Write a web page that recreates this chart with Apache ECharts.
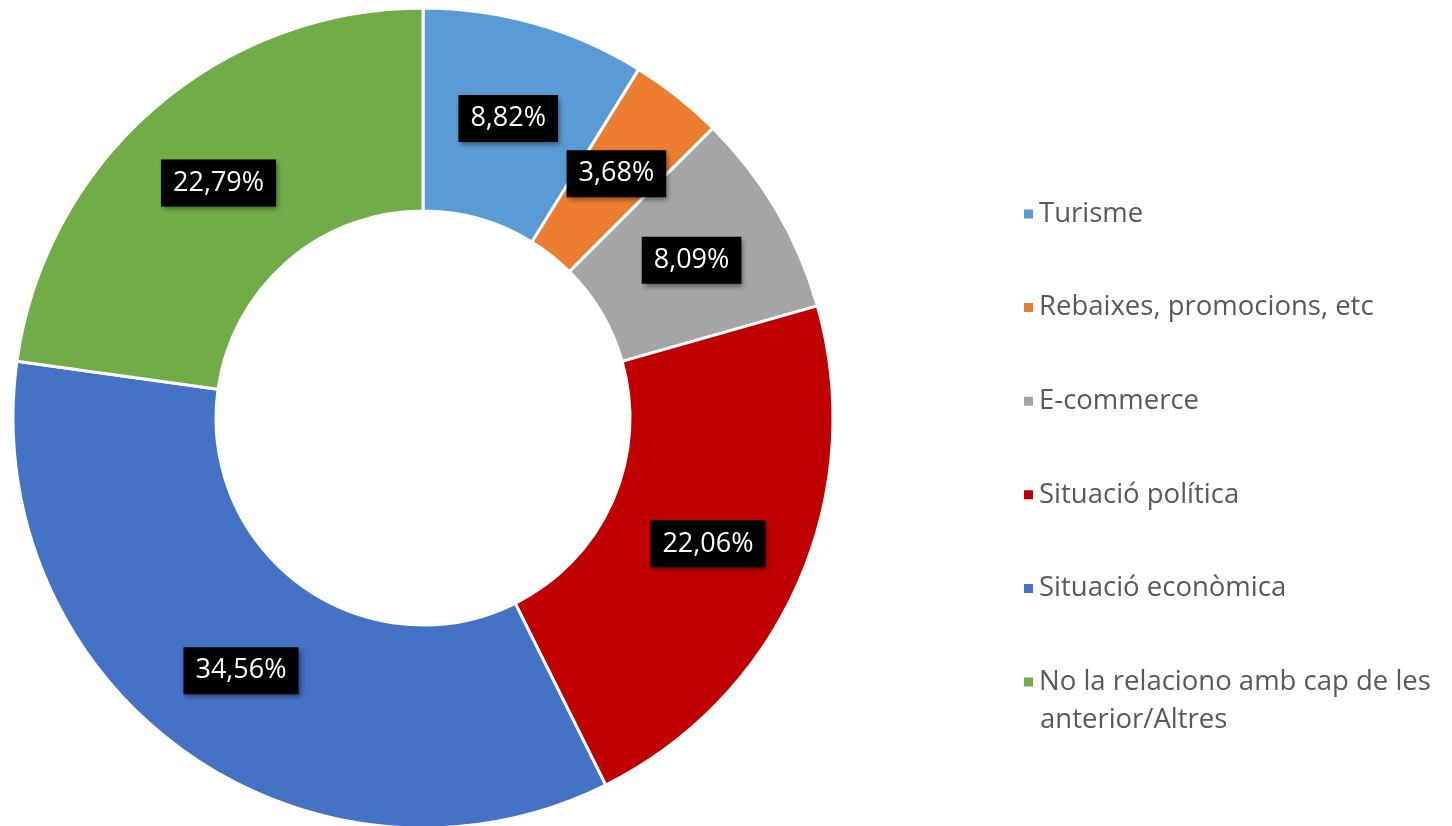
<!DOCTYPE html>
<html>
<head>
<meta charset="utf-8">
<script src="https://cdn.jsdelivr.net/npm/echarts@6/dist/echarts.min.js"></script>
<style>
html,body{margin:0;padding:0;background:#fff;}
#chart{width:1452px;height:826px;}
</style>
</head>
<body>
<div id="chart"></div>
<script>
const categories = ['Turisme', 'Rebaixes, promocions, etc', 'E-commerce', 'Situació política', 'Situació econòmica', 'No la relaciono amb cap de les anterior/Altres'];
const values = [8.82, 3.68, 8.09, 22.06, 34.56, 22.79];
const colors = ['#5B9BD5', '#ED7D31', '#A5A5A5', '#C00000', '#4472C4', '#70AD47'];

const chart = echarts.init(document.getElementById('chart'));
const font = '"Open Sans", "Liberation Sans", sans-serif';
chart.setOption({
  animation: false,
  color: colors,
  legend: {
    orient: 'vertical',
    left: 1017,
    top: 190,
    itemWidth: 11,
    itemHeight: 11,
    itemGap: 55.6,
    icon: 'rect',
    data: categories,
    formatter: function (name) {
      if (name === categories[5]) return 'No la relaciono amb cap de les';
      return name;
    },
    textStyle: { fontFamily: font, fontSize: 27.5, color: '#595959', lineHeight: 38 }
  },
  graphic: [{
    type: 'text',
    left: 1040,
    top: 706,
    style: { text: 'anterior/Altres', fontFamily: font, fontSize: 27.5, fill: '#595959' }
  }],
  series: [{
    type: 'pie',
    center: [423, 418],
    radius: [207, 410],
    startAngle: 90,
    clockwise: true,
    avoidLabelOverlap: false,
    itemStyle: { borderColor: '#ffffff', borderWidth: 3 },
    label: {
      show: true,
      position: 'inside',
      formatter: function (p) { return p.value.toFixed(2).replace('.', ',') + '%'; },
      fontFamily: font,
      fontSize: 27,
      color: '#ffffff',
      backgroundColor: '#000000',
      padding: [10, 12, 10, 12],
      shadowColor: 'rgba(0,0,0,0.45)',
      shadowBlur: 5,
      shadowOffsetX: 2,
      shadowOffsetY: 3
    },
    labelLine: { show: false },
    emphasis: { disabled: true },
    data: categories.map((c, i) => ({ name: c, value: values[i] }))
  }]
});
</script>
</body>
</html>
